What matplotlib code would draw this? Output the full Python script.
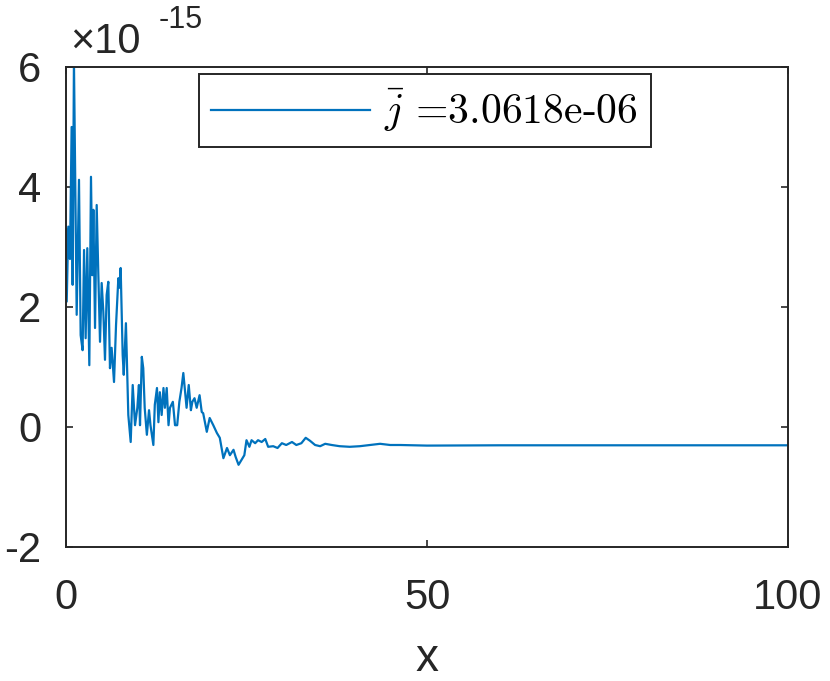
import matplotlib
matplotlib.use('Agg')
import matplotlib.pyplot as plt

# traced values, y in units of 1e-15
x_vals = [0.0, 0.1, 0.32, 0.55, 0.78, 0.92, 1.1, 1.48, 1.8, 2.03, 2.3, 2.5, 2.72, 2.95,
          3.23, 3.46, 3.65, 3.79, 4.02, 4.25, 4.48, 4.71, 4.94, 5.17, 5.4, 5.63, 5.86,
          6.09, 6.32, 6.65, 6.93, 7.25, 7.4, 7.57, 7.85, 8.0, 8.3, 8.63, 8.96, 9.24,
          9.56, 9.88, 10.1, 10.25, 10.5, 10.7, 10.9, 11.2, 11.5, 11.7, 12.1, 12.3,
          12.6, 12.8, 13.0, 13.25, 13.5, 13.7, 13.95, 14.2, 14.4, 14.8, 15.1, 15.4,
          15.7, 16.0, 16.25, 16.5, 16.7, 17.0, 17.3, 17.5, 17.8, 18.1, 18.5, 18.8,
          19.0, 19.5, 19.9, 20.4, 20.9, 21.3, 21.8, 22.3, 22.7, 23.2, 23.5, 23.9,
          24.3, 24.7, 25.0, 25.4, 25.7, 26.2, 26.6, 27.1, 27.6, 28.0, 28.7, 29.3,
          29.9, 30.5, 31.3, 31.9, 32.6, 33.2, 33.8, 34.5, 35.2, 35.9, 36.8, 37.9,
          39.3, 40.7, 42.1, 43.5, 44.9, 46.3, 50.0, 60.0, 70.0, 80.0, 90.0, 100.0]
y_vals = [3.3, 2.09, 3.34, 2.8, 5.0, 2.37, 6.1, 1.87, 4.12, 1.53, 1.28, 2.95, 1.48, 2.98,
          1.03, 4.17, 2.53, 3.62, 1.65, 3.7, 2.53, 1.42, 2.4, 1.92, 1.12, 2.2, 2.42,
          0.98, 1.32, 0.75, 1.7, 2.48, 2.32, 2.65, 1.2, 0.87, 1.73, 0.2, -0.25, 0.7,
          0.03, 0.32, 0.7, 0.03, 1.17, 0.98, 0.32, -0.13, 0.28, 0.03, -0.3, 0.37,
          0.65, 0.08, 0.58, 0.2, 0.65, 0.32, 0.65, 0.03, 0.32, 0.42, 0.03, 0.03,
          0.42, 0.65, 0.9, 0.58, 0.32, 0.7, 0.28, 0.42, 0.48, 0.32, 0.53, 0.25,
          0.23, -0.08, 0.15, 0.03, -0.1, -0.18, -0.52, -0.35, -0.47, -0.38, -0.5, -0.63,
          -0.55, -0.47, -0.22, -0.33, -0.22, -0.27, -0.22, -0.25, -0.2, -0.33, -0.32, -0.35,
          -0.27, -0.3, -0.25, -0.3, -0.27, -0.18, -0.23, -0.3, -0.32, -0.28, -0.3, -0.32,
          -0.33, -0.32, -0.3, -0.28, -0.3, -0.3, -0.31, -0.305, -0.305, -0.305, -0.305, -0.305]

legend_label = r'$\bar{j}$ =3.0618e-06'
x_ticks = [0, 50, 100]
y_ticks = [-2, 0, 2, 4, 6]

plt.rcParams['font.family'] = ['Liberation Sans', 'DejaVu Sans']
plt.rcParams['mathtext.fontset'] = 'cm'
plt.rcParams['axes.unicode_minus'] = False

fig = plt.figure(figsize=(8.3, 6.81), dpi=100)
ax = fig.add_axes([66 / 830, 1 - 547 / 681, 722 / 830, 480 / 681])

ax.plot(x_vals, y_vals, color='#0072BD', lw=1.6, label=legend_label)

ax.set_xlim(0, 100)
ax.set_ylim(-2, 6)
ax.set_xticks(x_ticks)
ax.set_yticks(y_ticks)
ax.tick_params(direction='in', length=5, width=1.2, top=True, right=True,
               labelsize=30, colors='#262626')
ax.tick_params(axis='y', pad=18)
ax.tick_params(axis='x', pad=22)
for s in ax.spines.values():
    s.set_color('#262626')
    s.set_linewidth(1.4)

ax.set_xlabel('x', fontsize=33, color='#262626', labelpad=14)

# exponent label like MATLAB
ax.text(0.006, 1.03, '\u00d710', transform=ax.transAxes, fontsize=30,
        color='#262626', va='baseline', ha='left')
ax.text(0.128, 1.082, '-15', transform=ax.transAxes, fontsize=22,
        color='#262626', va='baseline', ha='left')

leg = ax.legend(loc='upper center', bbox_to_anchor=(0.497, 0.985),
                prop={'family': 'cmr10', 'size': 30}, handlelength=3.8,
                handletextpad=0.35, fancybox=False, framealpha=1,
                borderpad=0.3, borderaxespad=0)
leg.get_frame().set_edgecolor('#262626')
leg.get_frame().set_linewidth(1.4)

fig.savefig('out.png', dpi=100)
